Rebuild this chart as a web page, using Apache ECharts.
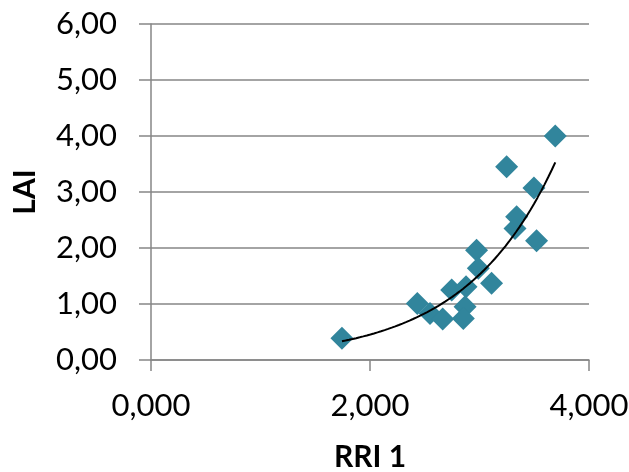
<!DOCTYPE html>
<html><head><meta charset="utf-8">
<script src="https://cdn.jsdelivr.net/npm/echarts@6/dist/echarts.min.js"></script>
<style>html,body{margin:0;padding:0;background:#fff}#c{width:629px;height:472px}</style>
</head><body><div id="c"></div>
<script>
const rri = [1.744, 2.432, 2.548, 2.664, 2.746, 2.877, 2.868, 2.852, 2.973, 2.989, 3.110, 3.248, 3.339, 3.324, 3.521, 3.497, 3.692];
const lai = [0.39, 1.01, 0.83, 0.73, 1.25, 1.31, 0.95, 0.74, 1.96, 1.64, 1.37, 3.45, 2.56, 2.35, 2.13, 3.07, 4.00];
const xTicks = [0, 2, 4];
const yTicks = [0, 1, 2, 3, 4, 5, 6];

// exponential least-squares fit (as Excel's exponential trendline)
const n = rri.length;
let sx=0, sy=0, sxx=0, sxy=0;
for (let i=0;i<n;i++){ const ly=Math.log(lai[i]); sx+=rri[i]; sy+=ly; sxx+=rri[i]*rri[i]; sxy+=rri[i]*ly; }
const b = (n*sxy - sx*sy)/(n*sxx - sx*sx);
const a = Math.exp((sy - b*sx)/n);
const xmin = Math.min(...rri), xmax = Math.max(...rri);
const trend = [];
for (let k=0;k<=60;k++){ const x = xmin + (xmax-xmin)*k/60; trend.push([x, a*Math.exp(b*x)]); }

const font = 'Lato, "Noto Sans", sans-serif';
const chart = echarts.init(document.getElementById('c'));
chart.setOption({
  animation:false,
  grid:{left:151, top:24, right:40, bottom:112, outerBoundsMode:'none', containLabel:false},
  xAxis:{type:'value', min:xTicks[0], max:xTicks[xTicks.length-1], interval:2,
    name:'RRI 1', nameLocation:'middle', nameGap:82,
    nameTextStyle:{fontFamily:font, fontWeight:'bold', fontSize:30, color:'#000'},
    axisLine:{show:true, lineStyle:{color:'#868686', width:1.5}},
    axisTick:{show:true, length:11, lineStyle:{color:'#868686', width:1.5}},
    splitLine:{show:false},
    axisLabel:{fontFamily:font, fontSize:31, color:'#000', margin:30,
      formatter:v=>v.toFixed(3).replace('.',',')}},
  yAxis:{type:'value', min:yTicks[0], max:yTicks[yTicks.length-1], interval:1,
    name:'LAI', nameLocation:'middle', nameGap:111,
    nameTextStyle:{fontFamily:font, fontWeight:'bold', fontSize:30, color:'#000'},
    axisLine:{show:true, lineStyle:{color:'#868686', width:1.5}},
    axisTick:{show:true, length:12, lineStyle:{color:'#868686', width:1.5}},
    splitLine:{show:true, lineStyle:{color:'#868686', width:1.5}},
    axisLabel:{fontFamily:font, fontSize:31, color:'#000', margin:34,
      formatter:v=>v.toFixed(2).replace('.',',')}},
  series:[
    {type:'scatter', symbol:'diamond', symbolSize:23, data:rri.map((x,i)=>[x,lai[i]]),
     itemStyle:{color:'#31859C', opacity:1}, z:2},
    {type:'line', data:trend, showSymbol:false, smooth:false, z:3,
     lineStyle:{color:'#000', width:2}}
  ]
});
</script></body></html>
